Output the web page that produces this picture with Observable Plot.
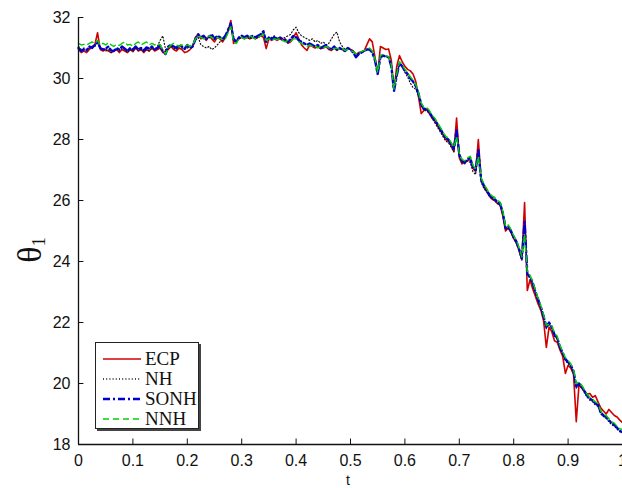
<!DOCTYPE html>
<html><head><meta charset="utf-8">
<script src="https://cdn.jsdelivr.net/npm/d3@7"></script>
<script src="https://cdn.jsdelivr.net/npm/@observablehq/plot@0.6"></script>
<style>
body{margin:0;background:#fff;}
#wrap{position:relative;width:622px;height:488px;overflow:hidden;background:#fff;}
#ylab{position:absolute;left:30px;top:250px;transform:translate(-50%,-50%) rotate(-90deg);font-family:"Liberation Serif",serif;font-size:34px;color:#111;white-space:nowrap;}
#ylab sub{font-size:18px;vertical-align:-4px;}
#xlab{position:absolute;left:348px;top:473px;transform:translateX(-50%);font-family:"Liberation Sans",sans-serif;font-size:14px;line-height:14px;color:#111;}
#legend{position:absolute;left:95px;top:342px;width:102px;height:85px;border:1px solid #222;box-shadow:2px 2px 0 #444;background:#fff;font-family:"Liberation Serif",serif;font-size:19px;color:#111;}
.row{position:absolute;left:6px;height:20px;display:flex;align-items:center;}
.row svg{width:40px;height:12px;margin-right:3px;}
</style></head><body>
<div id="wrap"></div>
<script>
const t = [0,0.005,0.01,0.015,0.02,0.025,0.03,0.035,0.04,0.045,0.05,0.055,0.06,0.065,0.07,0.075,0.08,0.085,0.09,0.095,
0.1,0.105,0.11,0.115,0.12,0.125,0.13,0.135,0.14,0.145,0.15,0.155,0.16,0.165,0.17,0.175,0.18,0.185,0.19,0.195,
0.2,0.205,0.21,0.215,0.22,0.225,0.23,0.235,0.24,0.245,0.25,0.255,0.26,0.265,0.27,0.275,0.28,0.285,0.29,0.295,
0.3,0.305,0.31,0.315,0.32,0.325,0.33,0.335,0.34,0.345,0.35,0.355,0.36,0.365,0.37,0.375,0.38,0.385,0.39,0.395,
0.4,0.405,0.41,0.415,0.42,0.425,0.43,0.435,0.44,0.445,0.45,0.455,0.46,0.465,0.47,0.475,0.48,0.485,0.49,0.495,
0.5,0.505,0.51,0.515,0.52,0.525,0.53,0.535,0.54,0.545,0.55,0.555,0.56,0.565,0.57,0.575,0.58,0.585,0.59,0.595,
0.6,0.605,0.61,0.615,0.62,0.625,0.63,0.635,0.64,0.645,0.65,0.655,0.66,0.665,0.67,0.675,0.68,0.685,0.69,0.695,
0.7,0.705,0.71,0.715,0.72,0.725,0.73,0.735,0.74,0.745,0.75,0.755,0.76,0.765,0.77,0.775,0.78,0.785,0.79,0.795,
0.8,0.805,0.81,0.815,0.82,0.825,0.83,0.835,0.84,0.845,0.85,0.855,0.86,0.865,0.87,0.875,0.88,0.885,0.89,0.895,
0.9,0.905,0.91,0.915,0.92,0.925,0.93,0.935,0.94,0.945,0.95,0.955,0.96,0.965,0.97,0.975,0.98,0.985,0.99,0.995,1];

const ECP = [30.95,30.85,30.90,30.85,30.95,31.05,31.10,31.50,30.95,30.90,30.95,30.90,30.85,30.90,30.95,30.85,30.95,30.90,30.85,30.95,
30.88,31.00,30.90,30.95,30.85,30.95,30.90,31.00,30.90,30.95,31.00,30.85,30.90,30.95,31.05,30.95,30.90,31.00,30.95,30.85,
30.88,30.95,31.05,31.35,31.45,31.30,31.35,31.25,31.40,31.30,31.20,31.35,31.30,31.20,31.35,31.55,31.90,31.15,31.25,31.30,
31.35,31.30,31.35,31.30,31.35,31.30,31.35,31.40,31.35,30.98,31.30,31.25,31.30,31.25,31.30,31.25,31.30,31.15,31.20,31.35,
31.50,31.30,31.10,31.00,30.92,31.10,31.05,31.00,31.05,30.98,31.00,31.05,30.95,30.92,31.00,30.92,30.98,30.95,30.90,30.97,
30.95,30.90,30.80,30.85,30.88,30.90,31.10,31.30,31.20,30.70,30.15,31.05,31.00,30.95,30.97,30.60,29.60,30.40,30.75,30.55,
30.40,30.30,30.25,30.15,29.90,29.40,28.85,28.95,29.00,28.85,28.70,28.60,28.45,28.30,28.15,28.00,27.95,27.80,27.60,28.70,
27.40,27.20,27.25,27.30,27.35,27.05,26.95,28.00,26.70,26.45,26.30,26.15,26.05,26.00,25.90,25.85,25.50,25.00,25.10,24.95,
24.75,24.60,24.35,24.05,25.93,23.05,23.40,23.10,22.85,22.60,22.40,22.05,21.18,21.85,21.70,21.40,21.35,21.10,20.90,20.33,
20.60,20.50,20.30,18.75,19.95,19.85,19.75,19.65,19.67,19.55,19.60,19.40,19.20,19.10,19.00,19.15,19.05,18.95,18.90,18.80,18.72];

const NH = [31.05,30.95,31.00,30.95,31.00,31.05,31.05,31.15,31.00,30.95,30.90,30.95,30.85,30.90,30.95,30.90,31.00,30.95,30.85,30.95,
30.90,31.00,30.92,30.95,30.88,30.95,30.90,31.00,30.95,31.05,31.25,31.40,30.95,31.00,31.05,31.00,30.95,31.05,31.00,30.95,
31.00,31.05,31.10,31.25,31.35,31.10,31.05,31.00,31.05,30.95,31.00,31.10,31.20,31.25,31.35,31.55,31.75,31.25,31.20,31.30,
31.35,31.30,31.35,31.30,31.35,31.30,31.35,31.40,31.50,31.25,31.30,31.35,31.40,31.30,31.35,31.30,31.35,31.40,31.45,31.60,
31.68,31.50,31.40,31.35,31.30,31.25,31.30,31.20,31.25,31.15,31.20,31.10,31.15,31.30,31.45,31.52,31.20,31.05,30.95,31.00,
30.95,30.90,30.75,30.82,30.85,30.90,30.95,30.98,30.90,30.62,30.15,30.72,30.75,30.72,30.70,30.42,29.62,30.10,30.50,30.40,
30.20,30.05,29.85,29.70,29.65,29.45,29.10,28.95,28.95,28.85,28.70,28.55,28.40,28.25,28.10,27.95,27.90,27.75,27.60,28.20,
27.45,27.25,27.20,27.30,27.25,26.95,26.85,27.55,26.60,26.40,26.30,26.15,26.05,26.00,25.90,25.85,25.55,25.05,25.10,24.95,
24.75,24.60,24.35,24.05,25.20,23.55,23.45,23.25,22.95,22.70,22.45,22.15,21.80,21.95,21.80,21.55,21.45,21.15,20.95,20.75,
20.65,20.55,20.35,19.85,19.95,19.85,19.70,19.55,19.45,19.40,19.30,19.25,19.00,18.92,18.85,18.75,18.65,18.60,18.50,18.42,18.38];

const SONH = [31.00,30.90,30.95,30.92,31.05,31.00,31.10,31.20,31.00,30.95,30.98,31.05,30.92,30.90,31.00,30.95,31.05,30.98,30.90,31.00,
30.95,31.05,30.95,31.00,30.92,31.02,30.98,31.05,30.95,31.00,31.08,30.90,30.80,31.05,31.10,31.05,31.00,31.10,31.05,30.98,
31.10,31.00,31.05,31.30,31.45,31.35,31.40,31.30,31.35,31.45,31.30,31.40,31.35,31.30,31.40,31.60,31.80,31.30,31.20,31.35,
31.40,31.35,31.40,31.35,31.40,31.35,31.40,31.45,31.55,31.20,31.35,31.30,31.35,31.30,31.35,31.30,31.25,31.20,31.30,31.40,
31.35,31.25,31.20,31.15,31.10,31.15,31.10,31.05,31.10,31.00,31.05,31.10,31.00,30.95,31.05,30.95,31.00,30.95,30.90,31.00,
30.95,30.85,30.70,30.80,30.85,30.90,30.95,30.95,30.85,30.60,30.15,30.70,30.75,30.72,30.70,30.40,29.60,30.10,30.50,30.40,
30.25,30.15,30.00,29.90,29.75,29.50,29.15,29.00,29.00,28.90,28.75,28.65,28.50,28.35,28.20,28.05,28.00,27.85,27.70,28.30,
27.50,27.30,27.25,27.35,27.40,27.10,27.00,27.65,26.70,26.50,26.35,26.20,26.10,26.05,25.95,25.90,25.60,25.10,25.15,25.00,
24.80,24.65,24.40,24.10,25.30,23.60,23.50,23.30,23.00,22.75,22.50,22.20,21.85,22.00,21.85,21.60,21.50,21.20,21.00,20.80,
20.70,20.60,20.40,19.90,20.00,19.90,19.75,19.60,19.50,19.45,19.35,19.30,19.05,18.95,18.90,18.80,18.70,18.65,18.55,18.45,18.40];

const NNH = [31.15,31.10,31.12,31.10,31.15,31.20,31.15,31.25,31.10,31.15,31.10,31.18,31.10,31.05,31.12,31.08,31.15,31.20,31.10,31.12,
31.05,31.15,31.20,31.10,31.15,31.20,31.10,31.15,31.10,31.15,31.10,30.95,30.80,31.00,31.10,31.15,31.10,31.05,31.10,31.05,
31.10,31.05,31.10,31.30,31.40,31.35,31.30,31.35,31.40,31.35,31.30,31.35,31.30,31.35,31.30,31.50,31.70,31.20,31.15,31.30,
31.35,31.30,31.35,31.40,31.35,31.30,31.35,31.40,31.45,31.25,31.30,31.25,31.30,31.28,31.30,31.25,31.20,31.25,31.20,31.30,
31.30,31.20,31.15,31.10,31.05,31.10,31.05,31.10,31.00,31.05,31.00,31.05,31.00,31.00,30.98,31.00,30.95,30.98,30.92,30.95,
30.92,30.88,30.80,30.85,30.88,30.92,30.95,31.00,30.90,30.65,30.20,30.75,30.80,30.75,30.72,30.45,29.65,30.15,30.55,30.45,
30.30,30.20,30.05,29.95,29.80,29.55,29.20,29.05,29.05,28.95,28.80,28.70,28.55,28.40,28.25,28.10,28.05,27.90,27.75,28.10,
27.55,27.35,27.30,27.40,27.45,27.15,27.05,27.45,26.75,26.55,26.40,26.25,26.15,26.10,26.00,25.95,25.65,25.15,25.20,25.05,
24.85,24.70,24.45,24.15,24.90,23.65,23.55,23.35,23.05,22.80,22.55,22.25,21.90,21.95,21.90,21.65,21.55,21.25,21.05,20.85,
20.75,20.65,20.45,20.00,20.05,19.95,19.80,19.65,19.55,19.50,19.40,19.35,19.10,19.00,18.95,18.85,18.75,18.70,18.60,18.52,18.48];

const seriesNames = ["ECP","NH","SONH","NNH"];
const seriesColors = ["#d00000","#111111","#0000cc","#00d000"];
const seriesWidths = [1.6,1.2,2.4,1.4];
const seriesDashes = [null,"1,2.2","7,3,2,3","6,4"];
const seriesValues = [ECP, NH, SONH, NNH];

const xTicks = [0,0.1,0.2,0.3,0.4,0.5,0.6,0.7,0.8,0.9,1];
const yTicks = [18,20,22,24,26,28,30,32];

const lineMarks = seriesValues.map((vals, k) =>
  Plot.line(t.map((x, i) => ({t: x, v: vals[i]})), {
    x: "t", y: "v",
    stroke: seriesColors[k], strokeWidth: seriesWidths[k],
    strokeDasharray: seriesDashes[k] || undefined,
    strokeLinejoin: "round"
  })
);

const chart = Plot.plot({
  width: 622, height: 488,
  marginLeft: 78, marginRight: 0, marginTop: 17, marginBottom: 44,
  style: {fontFamily: "Liberation Sans, Arial, sans-serif", fontSize: "16px", color: "#111", background: "#fff", overflow: "visible"},
  x: {domain: [0, 1]},
  y: {domain: [18, 32]},
  marks: [
    Plot.axisX(xTicks, {tickSize: 0, tickPadding: 10, tickFormat: d => String(d), label: null, fontSize: 16}),
    Plot.axisY(yTicks, {tickSize: 0, tickPadding: 8, label: null, fontSize: 16}),
    Plot.ruleX(xTicks.slice(1, 10), {x: d => d, y1: 18, y2: 18.18, stroke: "#111"}),
    Plot.ruleY(yTicks.slice(1), {y: d => d, x1: 0, x2: 0.01, stroke: "#111"}),
    ...lineMarks,
    Plot.ruleX([0], {stroke: "#111", strokeWidth: 1.3}),
    Plot.ruleY([18], {stroke: "#111", strokeWidth: 1.3})
  ]
});

const wrap = document.getElementById("wrap");
wrap.appendChild(chart);

const ylab = document.createElement("div");
ylab.id = "ylab";
ylab.innerHTML = "θ<sub>1</sub>";
wrap.appendChild(ylab);

const xlab = document.createElement("div");
xlab.id = "xlab";
xlab.textContent = "t";
wrap.appendChild(xlab);

const legend = document.createElement("div");
legend.id = "legend";
seriesNames.forEach((name, k) => {
  const row = document.createElement("div");
  row.className = "row";
  row.style.top = (6 + k * 20) + "px";
  const dash = seriesDashes[k] ? `stroke-dasharray="${seriesDashes[k]}"` : "";
  row.innerHTML = `<svg viewBox="0 0 40 12"><line x1="1" y1="6" x2="39" y2="6" stroke="${seriesColors[k]}" stroke-width="${k === 2 ? 2.4 : 1.3}" ${dash}/></svg><span>${name}</span>`;
  legend.appendChild(row);
});
wrap.appendChild(legend);
</script>
</body></html>
